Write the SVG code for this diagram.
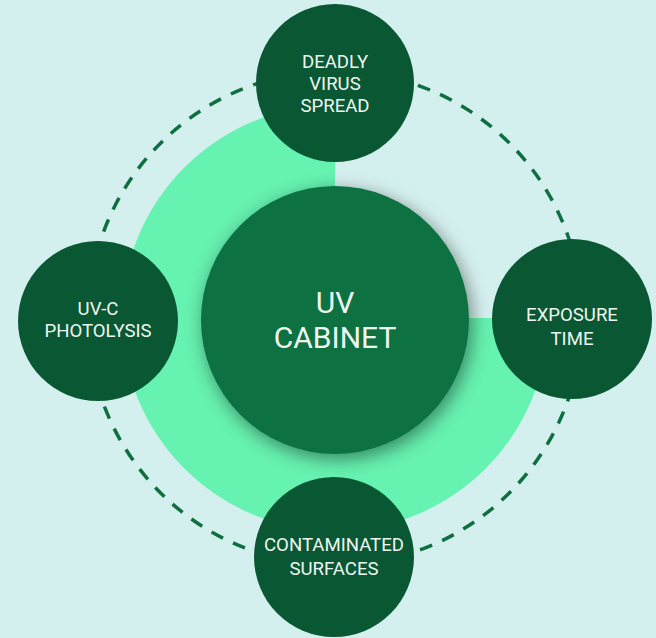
<svg xmlns="http://www.w3.org/2000/svg" width="656" height="638" viewBox="0 0 656 638">
<defs>
<filter id="sh" x="-30%" y="-30%" width="160%" height="160%">
<feDropShadow dx="3" dy="5" stdDeviation="9" flood-color="#000" flood-opacity="0.45"/>
</filter>
<style>
.node{fill:#0a5733}
.lbl{font-family:Roboto,"Liberation Sans",sans-serif;font-size:18.6px;fill:#eef6f1;text-anchor:middle}
.big{font-family:Roboto,"Liberation Sans",sans-serif;font-size:30px;fill:#eef6f1;text-anchor:middle}
</style>
</defs>
<rect width="656" height="638" fill="#d4f0ee"/>
<g id="connectors">
<circle cx="335" cy="318" r="247" fill="none" stroke="#0e7040" stroke-width="3.5" stroke-dasharray="13 11"/>
</g>
<g id="ring">
<path d="M335 318 L335 105 A213 213 0 1 0 548 318 Z" fill="#66f2b0"/>
</g>
<g id="center">
<circle cx="335" cy="320" r="134" fill="#0b7142" filter="url(#sh)"/>
<text class="big" x="335" y="313">UV</text>
<text class="big" x="335" y="348">CABINET</text>
</g>
<g id="top">
<circle class="node" cx="335" cy="83" r="79"/>
<text class="lbl" x="335" y="68">DEADLY</text>
<text class="lbl" x="335" y="90">VIRUS</text>
<text class="lbl" x="335" y="112">SPREAD</text>
</g>
<g id="left">
<circle class="node" cx="98" cy="321" r="80"/>
<text class="lbl" x="98" y="315">UV-C</text>
<text class="lbl" x="98" y="337">PHOTOLYSIS</text>
</g>
<g id="right">
<circle class="node" cx="572" cy="319" r="80"/>
<text class="lbl" x="572" y="321">EXPOSURE</text>
<text class="lbl" x="572" y="345">TIME</text>
</g>
<g id="bottom">
<circle class="node" cx="334" cy="557" r="80"/>
<text class="lbl" x="334" y="551">CONTAMINATED</text>
<text class="lbl" x="334" y="575">SURFACES</text>
</g>
</svg>
